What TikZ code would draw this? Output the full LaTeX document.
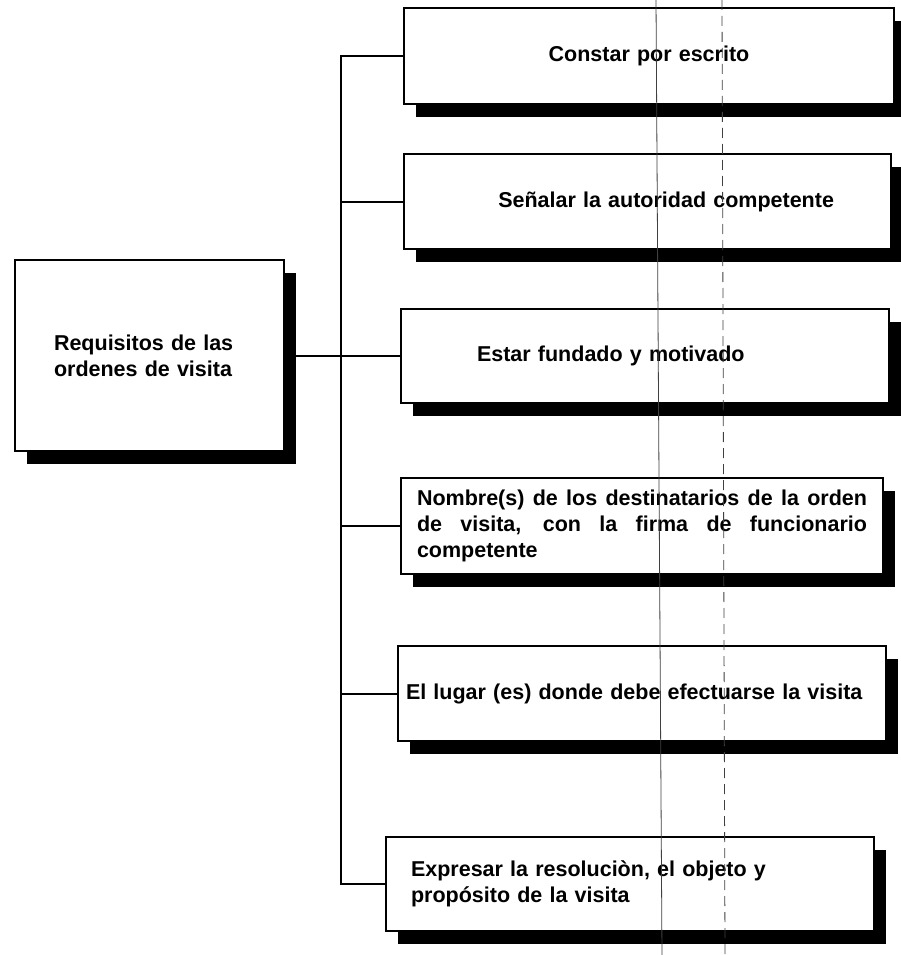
\documentclass[tikz,border=0pt]{standalone}
\usepackage{fontspec}
\setmainfont{Liberation Sans}
\usetikzlibrary{shadows}
\hyphenpenalty=10000

\begin{document}
\begin{tikzpicture}[
    x=1pt, y=-1pt,
    item/.style={rectangle, draw=black, fill=white, line width=2pt, anchor=north west, inner ysep=0pt, font=\bfseries\fontsize{21.5}{26}\selectfont, drop shadow={shadow xshift=12pt, shadow yshift=-13pt, opacity=1, fill=black}},
    link/.style={draw=black, line width=2pt},
    crease/.style={black!75, line width=0.8pt}
]
    \useasboundingbox (0,0) rectangle (901,955);

    \node[item, minimum height=191pt, text width=191pt, inner xsep=39pt, align=left] (req) at (14,259) {Requisitos de las\\ordenes de visita};

    \node[item, minimum height=96pt, text width=470pt, inner xsep=10pt, align=center] (escrito) at (403,7) {Constar por escrito};
    \node[item, minimum height=95pt, text width=373pt, inner xsep=57pt, align=right] (autoridad) at (403,153) {Señalar la autoridad competente};
    \node[item, minimum height=94pt, text width=336pt, inner xsep=76pt, align=left] (fundado) at (400,308) {Estar fundado y motivado};
    \node[item, minimum height=96pt, text width=450pt, inner xsep=16pt, align=justify] (nombres) at (400,477) {Nombre(s) de los destinatarios de la orden\linebreak de visita, con la firma de funcionario\linebreak competente};
    \node[item, minimum height=95pt, text width=472pt, inner xsep=8pt, align=left] (lugar) at (397,645) {El lugar (es) donde debe efectuarse la visita};
    \node[item, minimum height=94pt, text width=438pt, inner xsep=25pt, align=left] (objeto) at (385,836) {Expresar la resoluciòn, el objeto y\\propósito de la visita};

    \coordinate (spine) at (341,0);

    \draw[link] (req.east) -- (req.east -| fundado.west);
    \draw[link] (escrito.west) -- (spine |- escrito.west) -- (spine |- objeto.west) -- (objeto.west);
    \draw[link] (spine |- autoridad.west) -- (autoridad.west);
    \draw[link] (spine |- nombres.west) -- (nombres.west);
    \draw[link] (spine |- lugar.west) -- (lugar.west);

    \draw[crease] (656,0) -- (662,955);
    \draw[crease, dash pattern=on 10pt off 6pt] (722,0) -- (725,955);
\end{tikzpicture}
\end{document}
